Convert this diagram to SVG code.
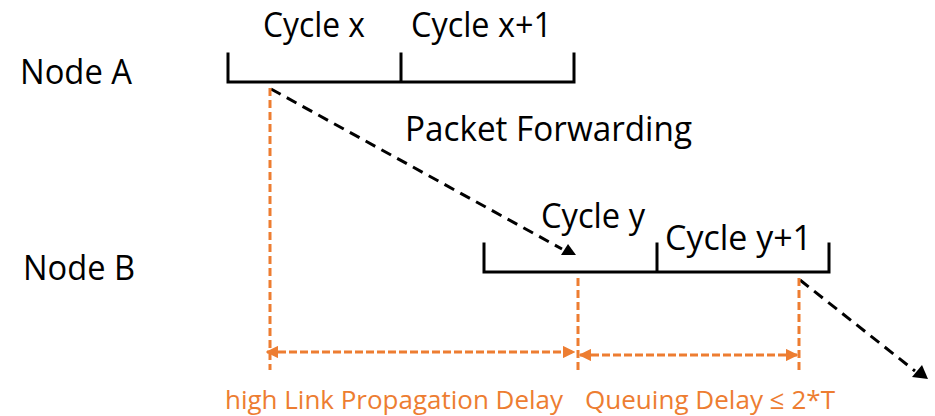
<svg xmlns="http://www.w3.org/2000/svg" width="935" height="416" viewBox="0 0 935 416">
  <style>
    .lbl { font-family: "Open Sans", "Liberation Sans", sans-serif; font-size: 34px; fill: #000; }
    .note { font-family: "Open Sans", "Liberation Sans", sans-serif; font-size: 26px; fill: #ED7D31; }
    .axis { fill: none; stroke: #000; stroke-width: 3; stroke-linecap: square; }
    .flow { fill: none; stroke: #000; stroke-width: 3; stroke-dasharray: 11 7; }
    .guide { fill: none; stroke: #ED7D31; stroke-width: 3; stroke-dasharray: 8 4; }
    .span { fill: none; stroke: #ED7D31; stroke-width: 3; stroke-dasharray: 8 3; }
  </style>
  <defs>
    <marker id="oa" viewBox="0 0 10 10" refX="9" refY="5" markerWidth="4.2" markerHeight="4.2" orient="auto-start-reverse" markerUnits="strokeWidth">
      <path d="M0,0 L10,5 L0,10 z" fill="#ED7D31"/>
    </marker>
  </defs>

  <rect width="935" height="416" fill="#fff"/>

  <!-- Node A timeline -->
  <g id="nodeA">
    <text class="lbl" x="20" y="84" textLength="112" lengthAdjust="spacingAndGlyphs">Node A</text>
    <path class="axis" d="M228,54 V82 H574 V54 M401,54 V82"/>
    <text class="lbl" x="263" y="37" textLength="102" lengthAdjust="spacingAndGlyphs">Cycle x</text>
    <text class="lbl" x="411" y="37" textLength="141" lengthAdjust="spacingAndGlyphs">Cycle x+1</text>
  </g>

  <!-- Node B timeline -->
  <g id="nodeB">
    <text class="lbl" x="23" y="280" textLength="112" lengthAdjust="spacingAndGlyphs">Node B</text>
    <path class="axis" d="M484,244 V272 H829 V244 M657,244 V272"/>
    <text class="lbl" x="541" y="228" textLength="104" lengthAdjust="spacingAndGlyphs">Cycle y</text>
    <text class="lbl" x="665" y="250" textLength="147" lengthAdjust="spacingAndGlyphs">Cycle y+1</text>
  </g>

  <g id="forwarding">
    <text class="lbl" x="405" y="141" textLength="287" lengthAdjust="spacingAndGlyphs">Packet Forwarding</text>
  </g>

  <!-- connectors -->
  <g id="connectors">
    <path class="flow" d="M271,89 L562,249"/>
    <polygon points="568,244 561,255 576,255" fill="#000"/>
    <path class="flow" d="M800,280 L915,371"/>
    <polygon points="922,365 912,377 928,379" fill="#000"/>

    <path class="guide" d="M270,88 V370"/>
    <path class="guide" d="M578,278 V372"/>
    <path class="guide" d="M799,278 V374"/>

    <path class="span" d="M267,352 H574" marker-start="url(#oa)" marker-end="url(#oa)"/>
    <path class="span" d="M580,355 H797" marker-start="url(#oa)" marker-end="url(#oa)"/>
  </g>

  <g id="delays">
    <text class="note" x="225" y="409" textLength="338" lengthAdjust="spacingAndGlyphs">high Link Propagation Delay</text>
    <text class="note" x="585" y="409" textLength="250" lengthAdjust="spacingAndGlyphs">Queuing Delay ≤ 2*T</text>
  </g>
</svg>
